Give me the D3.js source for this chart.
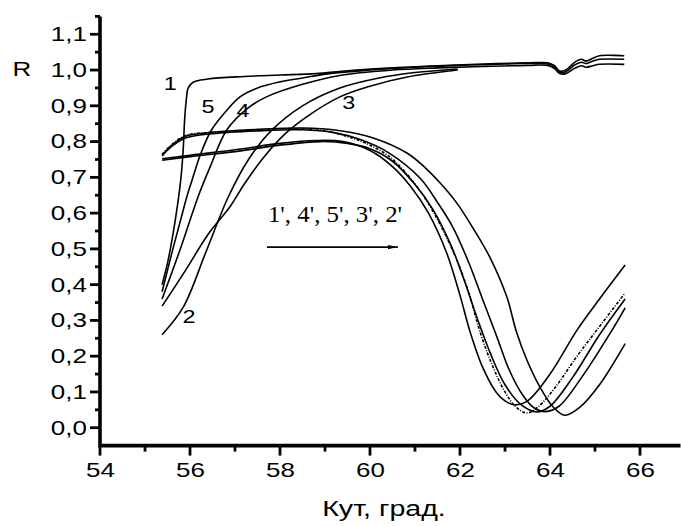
<!DOCTYPE html>
<html>
<head>
<meta charset="utf-8">
<script src="https://cdn.jsdelivr.net/npm/d3@7"></script>
<style>
  body { margin: 0; background: #fff; }
  svg { display: block; }
  text { font-family: "Liberation Sans", Arial, sans-serif; fill: #000; }
</style>
</head>
<body>
<svg id="chart"></svg>
<script>
const W = 681;
const H = 526;
const SX = 1.3; // the original lettering is drawn wider than it is tall

// axis ticks
const xTicks = [54, 56, 58, 60, 62, 64, 66];
const xMinor = [55, 57, 59, 61, 63, 65];
const yTicks = [0, 0.1, 0.2, 0.3, 0.4, 0.5, 0.6, 0.7, 0.8, 0.9, 1.0, 1.1];
const yMinor = [0.05, 0.15, 0.25, 0.35, 0.45, 0.55, 0.65, 0.75, 0.85, 0.95, 1.05, 1.15];

// rising curves 1..5 (angle, R)
const curve1 = [[55.38,0.40],[55.5,0.46],[55.62,0.54],[55.72,0.62],[55.8,0.70],[55.85,0.78],[55.88,0.86],[55.92,0.92],[55.96,0.95],[56.07,0.966],[56.4,0.975],[57.2,0.982],[58.0,0.986],[58.8,0.99],[59.5,0.998],[60.5,1.006],[61.5,1.012],[62.5,1.017],[63.5,1.02],[63.95,1.02],[64.1,1.012],[64.22,0.997],[64.35,1.0],[64.55,1.022],[64.7,1.03],[64.8,1.025],[64.95,1.033],[65.1,1.04],[65.65,1.04]];
const curve2 = [[55.38,0.26],[55.85,0.337],[56.35,0.49],[56.85,0.645],[57.3,0.75],[57.8,0.83],[58.5,0.9],[59.33,0.95],[60.2,0.978],[61.0,0.993],[61.95,1.003]];
const curve3 = [[55.38,0.34],[55.9,0.44],[56.4,0.54],[56.9,0.62],[57.2,0.68],[57.6,0.75],[58.1,0.82],[58.6,0.87],[59.33,0.925],[60.0,0.955],[60.8,0.98],[61.95,1.0]];
const curve4 = [[55.38,0.36],[55.8,0.505],[56.18,0.646],[56.45,0.73],[56.82,0.833],[57.3,0.895],[57.7,0.925],[58.5,0.96],[59.33,0.985],[60.5,1.0],[61.5,1.006],[62.5,1.01],[63.5,1.013],[63.95,1.013],[64.1,1.004],[64.22,0.99],[64.35,0.99],[64.55,1.005],[64.7,1.012],[64.8,1.008],[64.95,1.012],[65.1,1.016],[65.65,1.016]];
const curve5 = [[55.38,0.38],[55.62,0.50],[55.8,0.585],[55.93,0.646],[56.04,0.69],[56.25,0.77],[56.48,0.833],[56.8,0.885],[57.11,0.925],[57.5,0.95],[58.0,0.967],[58.5,0.978],[59.1,0.99],[60,1.0],[61,1.008],[62,1.013],[63,1.017],[63.95,1.017],[64.1,1.008],[64.22,0.993],[64.35,0.995],[64.55,1.015],[64.7,1.022],[64.8,1.018],[64.95,1.025],[65.1,1.03],[65.65,1.03]];

// resonance curves 1'..5' (angle, R)
const curve1p = [[55.38,0.752],[56.0,0.762],[57.0,0.777],[58.0,0.795],[58.8,0.803],[59.4,0.80],[60.0,0.775],[60.5,0.73],[60.9,0.675],[61.3,0.60],[61.7,0.49],[62.0,0.37],[62.22,0.27],[62.5,0.17],[62.8,0.10],[63.0,0.075],[63.22,0.064],[63.5,0.075],[64.0,0.15],[64.6,0.273],[65.1,0.36],[65.67,0.455]];
const curve2p = [[55.38,0.762],[55.6,0.79],[55.9,0.815],[56.5,0.826],[57.5,0.834],[58.5,0.838],[59.3,0.831],[60.07,0.81],[60.82,0.768],[61.2,0.73],[61.56,0.684],[61.93,0.628],[62.29,0.558],[62.67,0.475],[63.04,0.366],[63.25,0.27],[63.5,0.185],[63.78,0.113],[64.07,0.058],[64.33,0.035],[64.67,0.058],[65.1,0.12],[65.67,0.235]];
const curve3p = [[55.38,0.76],[55.6,0.787],[55.9,0.81],[56.5,0.822],[57.5,0.83],[58.5,0.833],[59.2,0.825],[59.8,0.805],[60.4,0.77],[61.11,0.698],[61.5,0.63],[61.84,0.561],[62.2,0.46],[62.5,0.36],[62.82,0.254],[63.1,0.16],[63.4,0.09],[63.65,0.055],[63.9,0.045],[64.2,0.06],[64.7,0.14],[65.38,0.273],[65.67,0.335]];
const curve4p = [[55.38,0.764],[55.6,0.792],[55.9,0.817],[56.5,0.826],[57.5,0.833],[58.3,0.836],[59.0,0.83],[59.6,0.81],[60.0,0.79],[60.44,0.757],[60.8,0.712],[61.18,0.65],[61.55,0.57],[61.93,0.469],[62.2,0.375],[62.44,0.27],[62.7,0.18],[63.0,0.10],[63.25,0.057],[63.49,0.041],[63.75,0.06],[64.1,0.11],[64.6,0.2],[65.04,0.273],[65.67,0.377]];
const curve5p = [[55.38,0.748],[56.0,0.758],[57.0,0.772],[58.0,0.79],[58.9,0.80],[59.5,0.795],[60.0,0.78],[60.5,0.745],[61.0,0.68],[61.4,0.61],[61.8,0.51],[62.1,0.41],[62.4,0.30],[62.7,0.20],[63.0,0.12],[63.35,0.065],[63.7,0.044],[64.0,0.06],[64.5,0.14],[65.1,0.26],[65.67,0.36]];

const solidCurves = [curve1, curve2, curve3, curve4, curve5, curve1p, curve2p, curve3p, curve5p];
const dashedCurves = [curve4p];

// curve number labels (text, angle, R)
const curveLabels = [["1", 55.56, 0.963], ["5", 56.4, 0.897], ["4", 57.18, 0.888], ["3", 59.53, 0.908], ["2", 55.98, 0.31]];
const shiftLabel = "1', 4', 5', 3', 2'";
const shiftArrow = [57.71, 60.62, 0.505];

const svg = d3.select("#chart").attr("width", W).attr("height", H);

const x = d3.scaleLinear().domain([54, 66.9]).range([100, 680.5]);
const y = d3.scaleLinear().domain([-0.05, 1.15]).range([445.6, 16.4]);

const fmt = d3.formatLocale({ decimal: ",", thousands: " ", grouping: [3], currency: ["", ""] }).format(".1f");

// stretched text helper
function wideText(str, px, py, size, anchor, family, sx) {
  return svg.append("text")
    .attr("transform", `translate(${px},${py}) scale(${sx},1)`)
    .attr("text-anchor", anchor)
    .style("font-family", family)
    .style("font-size", `${size}px`)
    .text(str);
}

// Axes (labels and tick marks from d3, lines drawn heavy like the original)
const xAxisG = svg.append("g").attr("transform", `translate(0,${y(-0.05)})`);
xAxisG.call(d3.axisBottom(x).tickValues(xTicks).tickFormat(d3.format("d")).tickSize(0).tickSizeOuter(0).tickPadding(17));
xAxisG.select(".domain").remove();

const yAxisG = svg.append("g").attr("transform", `translate(${x(54)},0)`);
yAxisG.call(d3.axisLeft(y).tickValues(yTicks).tickFormat(fmt).tickSize(0).tickSizeOuter(0).tickPadding(13));
yAxisG.select(".domain").remove();

svg.selectAll(".tick text")
  .style("font-family", "'Liberation Sans', Arial, sans-serif")
  .style("font-size", "20px")
  .style("fill", "#000")
  .each(function () {
    const t = d3.select(this);
    t.attr("x", (+t.attr("x") || 0) / SX).attr("transform", `scale(${SX},1)`);
  });

const axisMarks = svg.append("g").attr("stroke", "#000").attr("fill", "none");

axisMarks.selectAll("line.xmaj").data(xTicks).join("line")
  .attr("x1", (d) => x(d)).attr("x2", (d) => x(d))
  .attr("y1", y(-0.05)).attr("y2", y(-0.05) + 10)
  .attr("stroke-width", 2.8);
axisMarks.selectAll("line.xmin").data(xMinor).join("line")
  .attr("x1", (d) => x(d)).attr("x2", (d) => x(d))
  .attr("y1", y(-0.05)).attr("y2", y(-0.05) + 6)
  .attr("stroke-width", 2.8);
axisMarks.selectAll("line.ymaj").data(yTicks).join("line")
  .attr("y1", (d) => y(d)).attr("y2", (d) => y(d))
  .attr("x1", x(54) - 10).attr("x2", x(54))
  .attr("stroke-width", 2.8);
axisMarks.selectAll("line.ymin").data(yMinor).join("line")
  .attr("y1", (d) => y(d)).attr("y2", (d) => y(d))
  .attr("x1", x(54) - 5).attr("x2", x(54))
  .attr("stroke-width", 2.8);
axisMarks.append("path")
  .attr("d", `M${x(54)},${y(1.15)}V${y(-0.05)}H${x(66.9)}`)
  .attr("stroke-width", 3.6);

// Curves
const line = d3.line()
  .x((d) => x(d[0]))
  .y((d) => y(d[1]))
  .curve(d3.curveCatmullRom.alpha(0.5));

svg.append("g")
  .selectAll("path")
  .data(solidCurves)
  .join("path")
  .attr("d", line)
  .attr("fill", "none")
  .attr("stroke", "#000")
  .attr("stroke-width", 1.6);

svg.append("g")
  .selectAll("path")
  .data(dashedCurves)
  .join("path")
  .attr("d", line)
  .attr("fill", "none")
  .attr("stroke", "#000")
  .attr("stroke-width", 1.6)
  .attr("stroke-dasharray", "3,1.5,1,1.5");

// Curve labels
curveLabels.forEach((d) => {
  wideText(d[0], x(d[1]), y(d[2]) + 6.5, 18, "middle", "'Liberation Sans', Arial, sans-serif", SX);
});

// Shift annotation
svg.append("defs").append("marker")
  .attr("id", "arrow")
  .attr("viewBox", "0 0 10 6")
  .attr("refX", 10)
  .attr("refY", 3)
  .attr("markerWidth", 10)
  .attr("markerHeight", 6)
  .attr("markerUnits", "userSpaceOnUse")
  .attr("orient", "auto")
  .append("path")
  .attr("d", "M0,0.8 L10,3 L0,5.2 Z")
  .attr("fill", "#000");

svg.append("line")
  .attr("x1", x(shiftArrow[0]))
  .attr("x2", x(shiftArrow[1]))
  .attr("y1", y(shiftArrow[2]))
  .attr("y2", y(shiftArrow[2]))
  .attr("stroke", "#000")
  .attr("stroke-width", 1.6)
  .attr("marker-end", "url(#arrow)");

wideText(shiftLabel, x(shiftArrow[0]) + 1, y(0.575), 23, "start", "'Liberation Serif', 'Times New Roman', serif", 1.08);

// Axis titles
wideText("R", 22, 76, 20, "middle", "'Liberation Sans', Arial, sans-serif", SX);
wideText("Кут, град.", 384, 516, 22, "middle", "'Liberation Sans', Arial, sans-serif", SX);
</script>
</body>
</html>
